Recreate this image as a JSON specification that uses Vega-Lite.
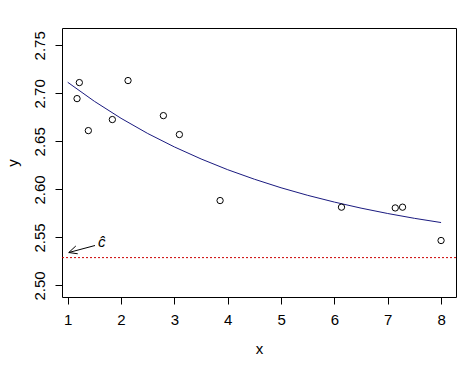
{
  "$schema": "https://vega.github.io/schema/vega-lite/v6.json",
  "width": 394,
  "height": 269,
  "autosize": {"type": "none"},
  "padding": {"left": 62, "top": 28, "right": 18, "bottom": 68},
  "background": "white",
  "config": {
    "view": {"stroke": "black", "strokeWidth": 1},
    "font": "Liberation Sans",
    "axis": {
      "grid": false,
      "domain": false,
      "tickColor": "black",
      "tickSize": 7,
      "labelColor": "black",
      "labelFontSize": 15,
      "labelFont": "Liberation Sans",
      "titleFont": "Liberation Sans",
      "titleFontSize": 15,
      "titleFontWeight": "normal",
      "titleColor": "black"
    }
  },
  "datasets": {
    "pts": [
      {"x": 1.175, "y": 2.6945},
      {"x": 1.218, "y": 2.7112},
      {"x": 1.387, "y": 2.6612},
      {"x": 1.837, "y": 2.6727},
      {"x": 2.131, "y": 2.7133},
      {"x": 2.794, "y": 2.6768},
      {"x": 3.094, "y": 2.6571},
      {"x": 3.857, "y": 2.5884},
      {"x": 6.133, "y": 2.5815},
      {"x": 7.141, "y": 2.5807},
      {"x": 7.278, "y": 2.5815},
      {"x": 8.0, "y": 2.5468}
    ],
    "curve": [
      {"x": 1.0, "y": 2.7115},
      {"x": 1.5, "y": 2.6917},
      {"x": 2.0, "y": 2.674},
      {"x": 2.5, "y": 2.6582},
      {"x": 3.0, "y": 2.6442},
      {"x": 3.5, "y": 2.6317},
      {"x": 4.0, "y": 2.6205},
      {"x": 4.5, "y": 2.6106},
      {"x": 5.0, "y": 2.6017},
      {"x": 5.5, "y": 2.5938},
      {"x": 6.0, "y": 2.5868},
      {"x": 6.5, "y": 2.5805},
      {"x": 7.0, "y": 2.5749},
      {"x": 7.5, "y": 2.5699},
      {"x": 8.0, "y": 2.5655}
    ],
    "arrow": [
      {"x": 1.512, "y": 2.5416, "x2": 1.02, "y2": 2.5343},
      {"x": 1.188, "y": 2.533, "x2": 1.02, "y2": 2.5343},
      {"x": 1.152, "y": 2.5411, "x2": 1.02, "y2": 2.5343}
    ],
    "chat": [{"x": 1.64, "y": 2.5454, "label": "ĉ"}],
    "hline": [{"y": 2.529}]
  },
  "layer": [
    {
      "data": {"name": "hline"},
      "mark": {"type": "rule", "color": "#cc0000", "strokeDash": [2, 2], "strokeWidth": 1},
      "encoding": {
        "y": {"field": "y", "type": "quantitative", "scale": {"domain": [2.488, 2.768]}}
      }
    },
    {
      "data": {"name": "curve"},
      "mark": {"type": "line", "color": "#1a1a80", "strokeWidth": 1},
      "encoding": {
        "x": {"field": "x", "type": "quantitative"},
        "y": {"field": "y", "type": "quantitative"}
      }
    },
    {
      "data": {"name": "pts"},
      "mark": {"type": "point", "shape": "circle", "filled": false, "color": "black", "size": 40, "strokeWidth": 1, "opacity": 1},
      "encoding": {
        "x": {
          "field": "x", "type": "quantitative",
          "scale": {"domain": [0.893, 8.28], "nice": false, "zero": false},
          "axis": {"values": [1, 2, 3, 4, 5, 6, 7, 8], "title": "x", "labelPadding": 8, "titlePadding": 14, "labelFlush": false}
        },
        "y": {
          "field": "y", "type": "quantitative",
          "scale": {"domain": [2.488, 2.768], "nice": false, "zero": false},
          "axis": {"values": [2.5, 2.55, 2.6, 2.65, 2.7, 2.75], "format": ".2f", "title": "y", "labelAngle": -90, "labelAlign": "center", "labelBaseline": "bottom", "labelPadding": 8, "titlePadding": 12, "labelFlush": false}
        }
      }
    },
    {
      "data": {"name": "arrow"},
      "mark": {"type": "rule", "color": "black", "strokeWidth": 1},
      "encoding": {
        "x": {"field": "x", "type": "quantitative"},
        "y": {"field": "y", "type": "quantitative"},
        "x2": {"field": "x2"},
        "y2": {"field": "y2"}
      }
    },
    {
      "data": {"name": "chat"},
      "mark": {"type": "text", "fontSize": 15, "fontStyle": "italic", "align": "center", "baseline": "middle", "color": "black"},
      "encoding": {
        "x": {"field": "x", "type": "quantitative"},
        "y": {"field": "y", "type": "quantitative"},
        "text": {"field": "label"}
      }
    }
  ]
}
